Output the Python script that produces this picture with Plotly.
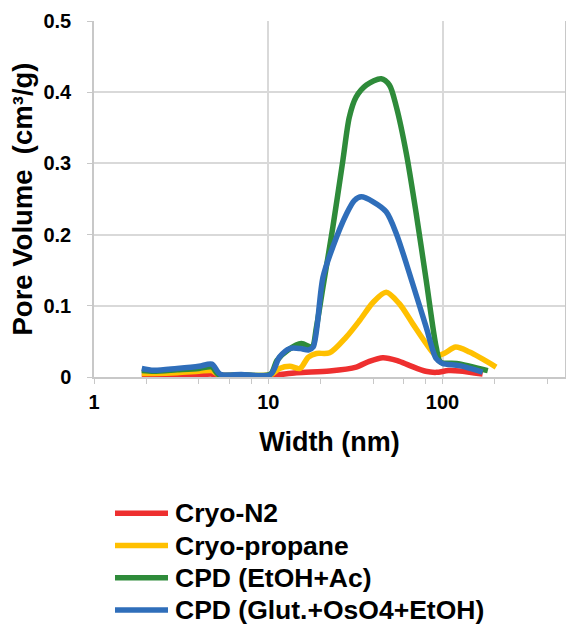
import plotly.graph_objects as go

# ---- data ----
n2_x = [1.88, 2.2, 3.0, 4.0, 4.75, 5.2, 7.0, 10.3, 14.5, 22.5, 32.0, 38.0, 45.5, 55.0, 65.0, 80.0, 92.0, 108.0, 125.0, 170.0]
n2_y = [0.001, 0.001, 0.002, 0.003, 0.004, 0.002, 0.002, 0.002, 0.006, 0.0085, 0.014, 0.022, 0.027, 0.023, 0.016, 0.008, 0.0065, 0.009, 0.0085, 0.004]

prop_x = [1.88, 2.2, 3.0, 4.0, 4.75, 5.2, 7.0, 10.3, 11.6, 13.3, 15.2, 17.0, 18.9, 22.5, 28.0, 33.6, 40.0, 47.5, 56.5, 67.4, 80.6, 92.0, 102.0, 119.0, 143.0, 203.0]
prop_y = [0.005, 0.005, 0.006, 0.008, 0.009, 0.003, 0.003, 0.003, 0.012, 0.015, 0.012, 0.028, 0.033, 0.034, 0.056, 0.080, 0.105, 0.119, 0.103, 0.075, 0.047, 0.030, 0.033, 0.042, 0.035, 0.014]

etoh_x = [1.88, 2.2, 3.0, 4.0, 4.75, 5.2, 7.0, 10.3, 11.2, 13.0, 15.5, 17.8, 18.9, 20.6, 23.5, 26.8, 29.2, 31.9, 36.6, 44.5, 49.6, 54.4, 62.0, 70.6, 80.6, 92.0, 97.5, 120.0, 182.0]
etoh_y = [0.009, 0.008, 0.010, 0.012, 0.014, 0.003, 0.003, 0.004, 0.023, 0.038, 0.047, 0.042, 0.070, 0.126, 0.211, 0.304, 0.365, 0.393, 0.410, 0.419, 0.410, 0.379, 0.314, 0.230, 0.136, 0.042, 0.021, 0.019, 0.009]

glut_x = [1.88, 2.2, 3.0, 4.0, 4.75, 5.3, 7.0, 10.3, 11.6, 13.3, 15.3, 17.0, 18.1, 20.6, 23.5, 28.1, 31.2, 34.2, 40.0, 47.5, 54.4, 67.4, 80.6, 91.9, 100.0, 125.0, 170.0]
glut_y = [0.012, 0.0094, 0.012, 0.015, 0.018, 0.004, 0.0035, 0.0035, 0.028, 0.040, 0.040, 0.038, 0.042, 0.140, 0.183, 0.229, 0.248, 0.253, 0.246, 0.232, 0.201, 0.131, 0.070, 0.026, 0.019, 0.016, 0.007]

names = ["Cryo-N2", "Cryo-propane", "CPD (EtOH+Ac)", "CPD (Glut.+OsO4+EtOH)"]
colors = ["#EE2F2F", "#FFC000", "#2E8B3A", "#2F6EBA"]
series = [(n2_x, n2_y), (prop_x, prop_y), (etoh_x, etoh_y), (glut_x, glut_y)]

x_ticks = [1, 10, 100]
x_minor = [2, 4, 6, 8, 20, 40, 60, 80, 200, 400]
y_ticks = [0, 0.1, 0.2, 0.3, 0.4, 0.5]

FONT = "Liberation Sans, Arial, sans-serif"
W, H = 566, 624
ML, MR, MT, MB = 94, 1, 21, 247
PW, PH = W - ML - MR, H - MT - MB

fig = go.Figure()
for (xs, ys), nm, c in zip(series, names, colors):
    fig.add_trace(go.Scatter(x=xs, y=ys, name=nm, mode="lines", showlegend=False,
                             line=dict(color=c, width=5.5, shape="spline", smoothing=0.8)))

# legend drawn below the plot (sample line + label per series)
for i, (nm, c) in enumerate(zip(names, colors)):
    row_px = 513.3 + i * 32.2          # pixel row from top of page
    yp = (H - MB - row_px) / PH
    fig.add_shape(type="line", xref="paper", yref="paper",
                  x0=(115 - ML) / PW, x1=(168 - ML) / PW, y0=yp, y1=yp,
                  line=dict(color=c, width=5.5))
    fig.add_annotation(xref="paper", yref="paper", x=(173 - ML) / PW, y=yp,
                       xanchor="left", yanchor="middle", showarrow=False, text=nm,
                       font=dict(family=FONT, size=26.5, color="black", weight="bold"))

fig.update_layout(
    width=W, height=H,
    margin=dict(l=ML, r=MR, t=MT, b=MB),
    plot_bgcolor="white", paper_bgcolor="white",
    font=dict(family=FONT, color="black", size=20, weight="bold"),
    showlegend=False,
)
fig.update_xaxes(
    type="log", range=[0, 2.703], automargin=False,
    tickvals=x_ticks, ticktext=[str(v) for v in x_ticks],
    showgrid=True, gridcolor="#D9D9D9", gridwidth=1.5,
    showline=True, linecolor="#C8C8C8", linewidth=1.5,
    ticks="outside", ticklen=5, tickcolor="#C8C8C8", ticklabelstandoff=1,
    minor=dict(tickvals=x_minor, ticks="outside", ticklen=5, tickcolor="#C8C8C8", showgrid=False),
    tickfont=dict(size=20, family=FONT, weight="bold"),
    title=dict(text="Width (nm)", font=dict(size=27, family=FONT, weight="bold"), standoff=20),
    zeroline=False,
)
fig.update_yaxes(
    range=[0, 0.5], automargin=False, tickvals=y_ticks, ticktext=["0", "0.1", "0.2", "0.3", "0.4", "0.5"],
    showgrid=True, gridcolor="#D9D9D9", gridwidth=1.5,
    showline=True, linecolor="#C8C8C8", linewidth=1.5, mirror=True,
    ticks="outside", ticklen=5, tickcolor="#C8C8C8", ticklabelstandoff=12,
    tickfont=dict(size=20, family=FONT, weight="bold"),
    title=dict(text="Pore Volume  (cm³/g)", font=dict(size=27.5, family=FONT, weight="bold"), standoff=3),
    zeroline=False,
)

fig.write_html("out.html", config={"displayModeBar": False},
               post_script="document.body.style.margin='0';document.body.style.overflow='hidden';")
